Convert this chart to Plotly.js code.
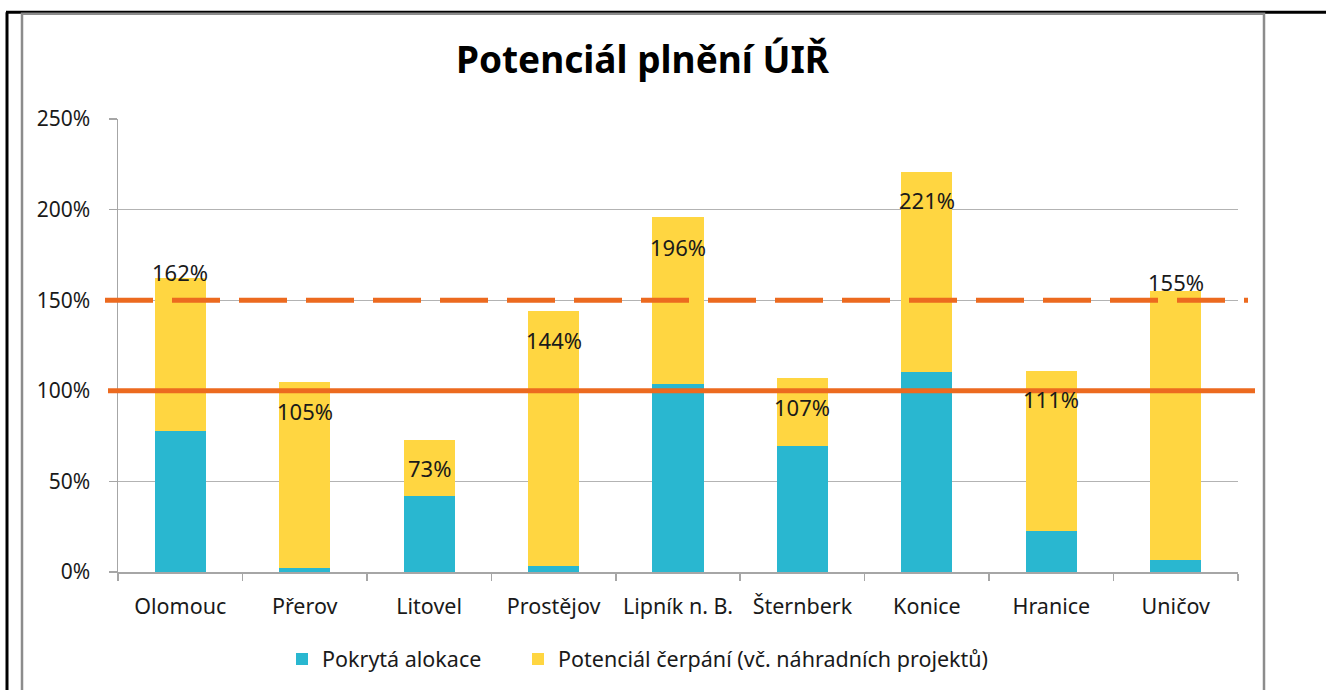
<!DOCTYPE html>
<html>
<head>
<meta charset="utf-8">
<script src="https://cdn.plot.ly/plotly-3.0.1.min.js"></script>
<style>
html,body{margin:0;padding:0;background:#fff;}
#chart{width:1326px;height:690px;}
</style>
</head>
<body>
<div id="chart"></div>
<script>
// ---- data ----
const categories = ['Olomouc', 'Přerov', 'Litovel', 'Prostějov', 'Lipník n. B.', 'Šternberk', 'Konice', 'Hranice', 'Uničov'];
const coveredAllocation = [77.8, 2.2, 42, 3.1, 103.9, 69.4, 110.5, 22.6, 6.6];      // Pokrytá alokace (%)
const potentialExtra   = [84.2, 102.8, 31, 140.9, 92.1, 37.6, 110.5, 88.4, 148.4];  // Potenciál čerpání (%)
const totalLabels      = [162, 105, 73, 144, 196, 107, 221, 111, 155];              // data label values (%)
const labelAt          = [165.4, 88.8, 57.3, 128.3, 179.5, 90.9, 205.4, 95.3, 159.9]; // where each label sits (%)
const minTarget = 100;  // solid line (%)
const maxTarget = 150;  // dashed line (%)
const yTickVals = [0, 50, 100, 150, 200, 250];
const yTickText = ['0%', '50%', '100%', '150%', '200%', '250%'];
const seriesNames = ['Pokrytá alokace', 'Potenciál čerpání (vč. náhradních projektů)'];

// ---- layout helpers (pixel -> paper) ----
const W = 1326, H = 690;
const L = 118, R = 1238, T = 119, B = 573;
const px = x => (x - L) / (R - L);
const py = y => (B - y) / (B - T);

const FONT = '"Noto Sans", "Open Sans", sans-serif';
const BLUE = '#29B7D0';
const YELLOW = '#FFD641';
const ORANGE = '#EC6A1F';
const GRID = '#B3B3B3';

const traces = [
  {
    type: 'bar', x: categories, y: coveredAllocation, name: seriesNames[0], legend: 'legend',
    marker: {color: BLUE, line: {width: 0}}, width: 0.41, hoverinfo: 'skip'
  },
  {
    type: 'bar', x: categories, y: potentialExtra, name: seriesNames[1], legend: 'legend2',
    marker: {color: YELLOW, line: {width: 0}}, width: 0.41, hoverinfo: 'skip'
  }
];

const annotations = categories.map((c, i) => ({
  x: c, y: labelAt[i], xref: 'x', yref: 'y',
  text: totalLabels[i] + '%', showarrow: false,
  xanchor: 'center', yanchor: 'middle',
  font: {family: FONT, size: 22, color: '#1a1a1a'}
}));

const shapes = [
  // outer black frame lines
  {type: 'line', xref: 'paper', yref: 'paper', x0: px(7), x1: px(7), y0: py(12), y1: py(700), line: {color: '#000', width: 3}, layer: 'above'},
  {type: 'line', xref: 'paper', yref: 'paper', x0: px(6), x1: px(1330), y0: py(12), y1: py(12), line: {color: '#000', width: 3}, layer: 'above'},
  // gray chart-area border
  {type: 'rect', xref: 'paper', yref: 'paper', x0: px(22), x1: px(1264), y0: py(13.5), y1: py(710), line: {color: '#8C8C8C', width: 2.5}, fillcolor: 'rgba(0,0,0,0)', layer: 'above'},
  // target lines
  {type: 'line', xref: 'paper', yref: 'y', x0: px(105), x1: px(1248), y0: maxTarget, y1: maxTarget, line: {color: ORANGE, width: 5, dash: '48px,19px'}, layer: 'above'},
  {type: 'line', xref: 'paper', yref: 'y', x0: px(108), x1: px(1255), y0: minTarget, y1: minTarget, line: {color: ORANGE, width: 5}, layer: 'above'}
];

const legendFont = {family: FONT, size: 21.5, color: '#1a1a1a'};

const layout = {
  width: W, height: H,
  margin: {l: L, r: W - R, t: T, b: H - B, pad: 0},
  paper_bgcolor: '#fff', plot_bgcolor: '#fff',
  barmode: 'stack',
  showlegend: true,
  font: {family: FONT, color: '#1a1a1a'},
  title: {
    text: '<b>Potenciál plnění ÚIŘ</b>',
    font: {family: FONT, size: 37, color: '#000'},
    xref: 'container', yref: 'container',
    x: 642.5 / W, y: 1 - 60 / H, xanchor: 'center', yanchor: 'middle'
  },
  xaxis: {
    type: 'category', showgrid: false, zeroline: false,
    showline: true, linecolor: '#A6A6A6', linewidth: 1.5,
    ticks: 'outside', tickson: 'boundaries', ticklen: 7, tickcolor: '#A6A6A6', tickwidth: 1.5,
    ticklabelstandoff: 15,
    tickfont: {family: FONT, size: 21.5, color: '#1a1a1a'},
    fixedrange: true
  },
  yaxis: {
    range: [0, 250], tickvals: yTickVals, ticktext: yTickText,
    showgrid: true, gridcolor: GRID, gridwidth: 1.3, zeroline: false,
    showline: true, linecolor: '#A6A6A6', linewidth: 1.5,
    ticks: 'outside', ticklen: 8, tickcolor: '#A6A6A6', tickwidth: 1.5,
    ticklabelstandoff: 14,
    tickfont: {family: FONT, size: 21, color: '#1a1a1a'},
    fixedrange: true
  },
  legend: {
    orientation: 'h', x: px(282), xanchor: 'left', y: py(659), yanchor: 'middle',
    xref: 'paper', yref: 'paper', font: legendFont, bgcolor: 'rgba(0,0,0,0)'
  },
  legend2: {
    orientation: 'h', x: px(518), xanchor: 'left', y: py(659), yanchor: 'middle',
    xref: 'paper', yref: 'paper', font: legendFont, bgcolor: 'rgba(0,0,0,0)'
  },
  annotations: annotations,
  shapes: shapes,
  hovermode: false
};

Plotly.newPlot('chart', traces, layout, {displayModeBar: false, staticPlot: true});
</script>
</body>
</html>
